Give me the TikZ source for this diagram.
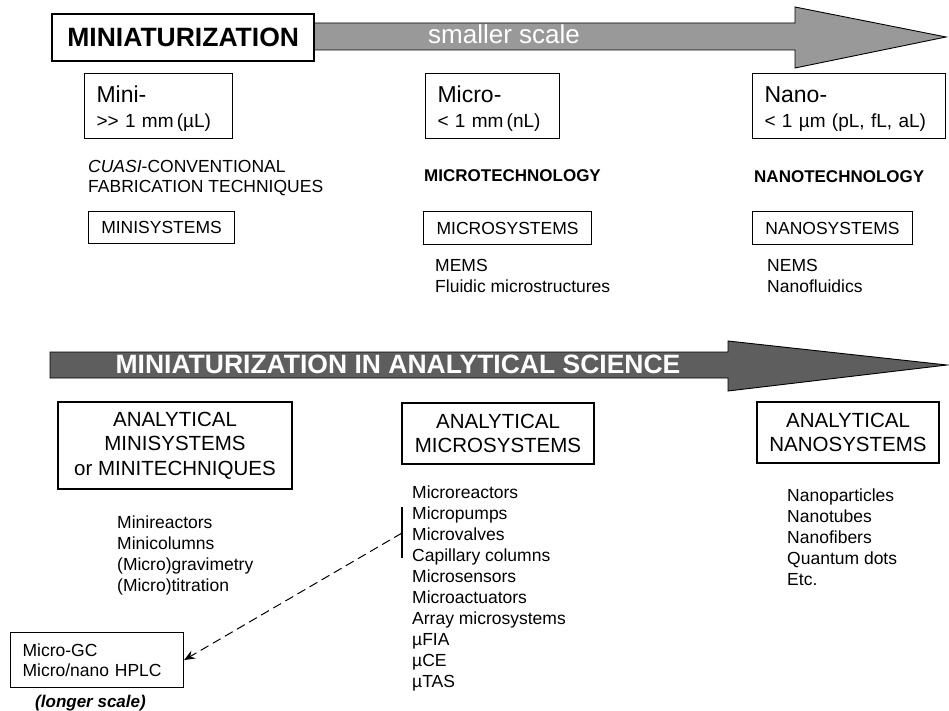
\documentclass[tikz,border=0pt]{standalone}
\usepackage{fontspec}
\setmainfont{Liberation Sans}
\usetikzlibrary{arrows.meta}
\newcommand\fsz[2]{\fontsize{#1pt}{#2pt}\selectfont}
\definecolor{lightbar}{HTML}{999999}
\definecolor{darkbar}{HTML}{5E5E5E}
\tikzset{
  frame/.style={draw=black, line width=1.1pt, fill=white, inner sep=0pt},
  lbl/.style={inner sep=0pt, anchor=base west, align=left},
  scalebox/.style={frame, anchor=north west, minimum height=65pt, inner xsep=12pt,
    align=left, font=\fsz{19}{25}},
  sysbox/.style={frame, anchor=north west, minimum height=33pt, font=\fsz{17.5}{20}},
  anbox/.style={frame, align=center, font=\fsz{20.5}{24.5}},
  listtext/.style={lbl, font=\fsz{17.5}{21}},
  bararrow/.style={draw=black, line width=0.9pt},
  linkarrow/.style={line width=1pt, dash pattern=on 9pt off 5pt,
    -{Stealth[length=11pt, width=9pt, inset=4pt]}}
}
% multi-line labels below are placed by the baseline of their last line
\begin{document}
\begin{tikzpicture}[x=1pt, y=-1pt]
\useasboundingbox (0,0) rectangle (949,711);

% ---- top scale arrow ----
\draw[bararrow, fill=lightbar] (314,23) -- (795,23) -- (795,7) -- (946,37)
  -- (795,68) -- (795,50) -- (314,50) -- cycle;
\node[frame, line width=2.4pt, anchor=north west, minimum width=262pt,
  minimum height=47pt, font=\fsz{26.5}{30}\bfseries] (miniat) at (51,13)
  {MINIATURIZATION};
\node[inner sep=0pt, anchor=base, text=white, font=\fsz{26}{28}] (smaller) at (504,44)
  {smaller scale};

% ---- size ranges ----
\node[scalebox, minimum width=148pt, text width=124pt] (mini) at (84,73)
  {{\fsz{23}{25}\rule{0pt}{22pt}Mini-}\\>{}> 1 mm\,(µL)};
\node[scalebox, minimum width=134pt, text width=110pt] (micro) at (425,73)
  {{\fsz{23}{25}\rule{0pt}{22pt}Micro-}\\< 1 mm\,(nL)};
\node[scalebox, minimum width=193pt, text width=169pt] (nano) at (752,73)
  {{\fsz{23}{25}\rule{0pt}{22pt}Nano-}\\< 1 µm (pL, fL, aL)};

% ---- technologies ----
\node[lbl, font=\fsz{17.5}{20}] (cuasi) at (88,193)
  {\textit{CUASI}-CONVENTIONAL\\FABRICATION TECHNIQUES};
\node[lbl, font=\fsz{17}{20}\bfseries] (microtech) at (424,182) {MICROTECHNOLOGY};
\node[lbl, font=\fsz{17}{20}\bfseries] (nanotech) at (754,183) {NANOTECHNOLOGY};

% ---- systems ----
\node[sysbox, minimum width=146pt, minimum height=32pt] (minisys) at (88,211) {MINISYSTEMS};
\node[sysbox, minimum width=168pt] (microsys) at (423,211) {MICROSYSTEMS};
\node[sysbox, minimum width=160pt] (nanosys) at (752,211) {NANOSYSTEMS};

\node[listtext] (mems) at (435,292) {MEMS\\Fluidic microstructures};
\node[listtext] (nems) at (767,292) {NEMS\\Nanofluidics};

% ---- analytical science arrow ----
\draw[bararrow, fill=darkbar] (50,352) -- (728,352) -- (728,341) -- (947,365)
  -- (728,391) -- (728,378) -- (50,378) -- cycle;
\node[inner sep=0pt, anchor=base, text=white, font=\fsz{26.5}{28}\bfseries] (analsci) at (398,373)
  {MINIATURIZATION IN ANALYTICAL SCIENCE};

% ---- analytical systems ----
\node[anbox, minimum width=234pt, minimum height=87pt] (anmini) at (175,445.5)
  {ANALYTICAL\\MINISYSTEMS\\or MINITECHNIQUES};
\node[anbox, minimum width=192pt, minimum height=61pt] (anmicro) at (498,433.5)
  {ANALYTICAL\\MICROSYSTEMS};
\node[anbox, minimum width=182pt, minimum height=61pt] (annano) at (848,432.5)
  {ANALYTICAL\\NANOSYSTEMS};

\node[listtext] (minilist) at (117,591)
  {Minireactors\\Minicolumns\\(Micro)gravimetry\\(Micro)titration};
\node[listtext] (microlist) at (412,687)
  {Microreactors\\Micropumps\\Microvalves\\Capillary columns\\Microsensors\\%
   Microactuators\\Array microsystems\\µFIA\\µCE\\µTAS};
\node[listtext] (nanolist) at (787,585)
  {Nanoparticles\\Nanotubes\\Nanofibers\\Quantum dots\\Etc.};

% ---- bracket and link to the chromatography box ----
\coordinate (brtop) at (402,507);
\coordinate (brbot) at (402,558);
\coordinate (brmid) at (402,533);
\draw[line width=1.1pt] (brtop) -- (brbot);

\node[frame, anchor=north west, minimum width=173pt, minimum height=55pt,
  text width=149pt, inner xsep=12pt, align=left, font=\fsz{17.5}{20}] (gc) at (10,632)
  {Micro-GC\\Micro/nano HPLC};
\draw[linkarrow] (brmid) -- (gc.east);

\node[inner sep=0pt, anchor=base, font=\fsz{17}{20}\bfseries\itshape] (longer) at (90.5,707)
  {(longer scale)};
\end{tikzpicture}
\end{document}
